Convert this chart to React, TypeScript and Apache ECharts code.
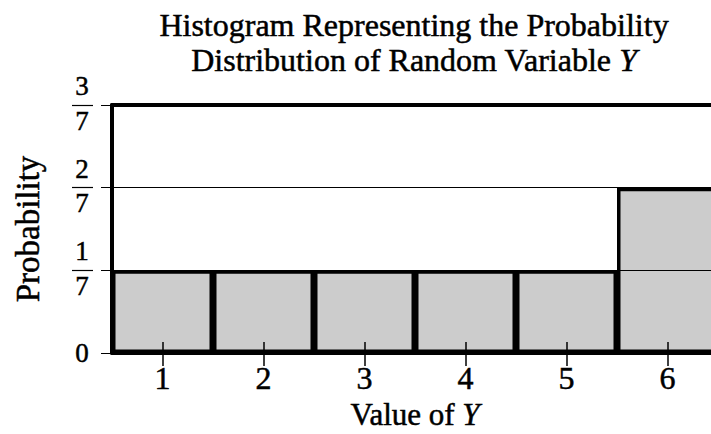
import React, { useEffect, useRef } from "react";
import * as echarts from "echarts";

// Values of the random variable Y and their probabilities (in sevenths)
const categories: string[] = ["1", "2", "3", "4", "5", "6"];
const numerators: number[] = [1, 1, 1, 1, 1, 2];
const denominator = 7;
const probabilities: number[] = numerators.map((n) => n / denominator);

// Y-axis tick numerators: 0, 1/7, 2/7, 3/7
const tickNumerators: number[] = [0, 1, 2, 3];

const FONT = "'Liberation Serif', 'Times New Roman', serif";
// a thin outline gives the serif glyphs a slightly heavier print look
const INK = { color: "#000", textBorderColor: "#000", textBorderWidth: 0.5 };

export default function App() {
  const ref = useRef<HTMLDivElement>(null);

  useEffect(() => {
    document.body.style.margin = "0";
    if (!ref.current) return;
    const chart = echarts.init(ref.current, undefined, { renderer: "svg" });

    const yMax = tickNumerators[tickNumerators.length - 1] / denominator;
    const step = 1 / denominator;
    const fractionValues = tickNumerators.filter((n) => n > 0).map((n) => n / denominator);

    chart.setOption({
      animation: false,
      backgroundColor: "#ffffff",
      title: {
        text: "Histogram Representing the Probability\nDistribution of Random Variable {i|Y}",
        left: 409,
        top: 2,
        textAlign: "center",
        textStyle: {
          fontFamily: FONT,
          fontSize: 32,
          fontWeight: "normal",
          lineHeight: 35,
          ...INK,
          rich: {
            i: { fontFamily: FONT, fontSize: 32, fontStyle: "italic", lineHeight: 35, ...INK },
          },
        },
      },
      grid: { left: 112, top: 105, width: 606, height: 248, outerBoundsMode: "none", containLabel: false },
      xAxis: [
        {
          type: "category",
          data: categories,
          position: "bottom",
          boundaryGap: true,
          axisLine: { show: true, lineStyle: { color: "#000", width: 4 } },
          axisTick: { show: true, alignWithLabel: true, inside: false, length: 13, lineStyle: { color: "#000", width: 1.5 } },
          axisLabel: { fontFamily: FONT, fontSize: 32, margin: 9, ...INK },
          splitLine: { show: false },
          name: "Value of {i|Y}",
          nameLocation: "middle",
          nameGap: 46,
          nameTextStyle: {
            fontFamily: FONT,
            fontSize: 31,
            ...INK,
            rich: { i: { fontFamily: FONT, fontSize: 31, fontStyle: "italic", ...INK } },
          },
          z: 5,
        },
        {
          type: "category",
          data: categories,
          position: "bottom",
          boundaryGap: true,
          axisLine: { show: false },
          axisTick: { show: true, alignWithLabel: true, inside: true, length: 11, lineStyle: { color: "#000", width: 1.5 } },
          axisLabel: { show: false },
          splitLine: { show: false },
          z: 5,
        },
        {
          type: "category",
          data: categories,
          position: "top",
          boundaryGap: true,
          axisLine: { show: true, lineStyle: { color: "#000", width: 4 } },
          axisTick: { show: false },
          axisLabel: { show: false },
          splitLine: { show: false },
          z: 5,
        },
      ],
      yAxis: [
        {
          type: "value",
          position: "left",
          min: 0,
          max: yMax,
          interval: step,
          axisLine: { show: true, lineStyle: { color: "#000", width: 4 } },
          axisTick: { show: true, length: 11, lineStyle: { color: "#000", width: 1 } },
          splitLine: { show: true, lineStyle: { color: "#000", width: 1 } },
          axisLabel: {
            margin: 30,
            align: "center",
            fontFamily: FONT,
            ...INK,
            formatter: (v: number) => {
              const n = Math.round(v * denominator);
              return n === 0 ? "{z|0}" : `{n|${n}}\n{d|${denominator}}`;
            },
            rich: {
              z: { fontFamily: FONT, fontSize: 27, lineHeight: 30, ...INK },
              n: { fontFamily: FONT, fontSize: 27, lineHeight: 31, ...INK },
              d: { fontFamily: FONT, fontSize: 27, lineHeight: 38, ...INK },
            },
          },
          name: "Probability",
          nameLocation: "middle",
          nameGap: 68,
          nameTextStyle: { fontFamily: FONT, fontSize: 33, ...INK },
          z: 5,
        },
        {
          // fraction bars of the tick labels
          type: "value",
          position: "left",
          offset: 19,
          min: 0,
          max: yMax,
          interval: step,
          axisLine: { show: false },
          axisTick: { show: true, length: 21, customValues: fractionValues, lineStyle: { color: "#000", width: 1.2 } },
          splitLine: { show: false },
          axisLabel: { show: false },
        },
      ],
      series: [
        {
          type: "bar",
          xAxisIndex: 0,
          yAxisIndex: 0,
          data: probabilities,
          barWidth: "100%",
          barCategoryGap: "0%",
          itemStyle: { color: "#cccccc", borderColor: "#000", borderWidth: 3.5 },
          z: 2,
        },
      ],
    });

    return () => chart.dispose();
  }, []);

  return (
    <div
      ref={ref}
      style={{ position: "fixed", left: 0, top: 0, width: 711, height: 434 }}
    />
  );
}
